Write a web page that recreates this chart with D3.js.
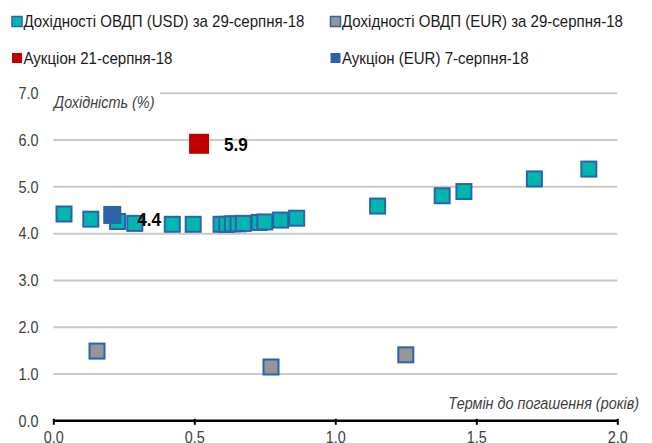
<!DOCTYPE html>
<html><head><meta charset="utf-8">
<script src="https://cdn.jsdelivr.net/npm/d3@7"></script>
<style>
body{margin:0;background:#fff;}
svg{display:block;font-family:"Liberation Sans","Arial",sans-serif;}
</style></head>
<body><svg id="c" width="652" height="443"></svg>
<script>
const usdMaturity = [0.038,0.133,0.228,0.289,0.422,0.496,0.595,0.615,0.635,0.655,0.674,0.73,0.75,0.806,0.863,1.150,1.379,1.456,1.706,1.899];
const usdYield    = [4.42,4.31,4.26,4.22,4.20,4.20,4.20,4.20,4.21,4.21,4.22,4.24,4.25,4.29,4.33,4.59,4.81,4.90,5.17,5.38];
const eurMaturity = [0.155,0.772,1.25];
const eurYield    = [1.49,1.15,1.41];
const auctionUahMaturity = [0.517];
const auctionUahYield    = [5.92];
const auctionEurMaturity = [0.209];
const auctionEurYield    = [4.40];
const xTicks = [0,0.5,1.0,1.5,2.0];
const yTicks = [0,1,2,3,4,5,6,7];
const legendLabels = ["Дохідності ОВДП (USD) за 29-серпня-18","Дохідності ОВДП (EUR) за 29-серпня-18","Аукціон 21-серпня-18","Аукціон (EUR) 7-серпня-18"];
const yTitle = "Дохідність (%)";
const xTitle = "Термін до погашення (років)";

const svg = d3.select("#c");
const x = d3.scaleLinear().domain([0,2]).range([53.3,617.3]);
const y = d3.scaleLinear().domain([0,7]).range([420.8,93.3]);
const fmt = d3.format(".1f");
const NARROW = 0.9;

// gridlines
svg.append("g").selectAll("line").data(yTicks.filter(d=>d>0)).join("line")
  .attr("x1",d=>d===7?160:x(0)).attr("x2",x(2))
  .attr("y1",d=>y(d)).attr("y2",d=>y(d))
  .attr("stroke","#c9c9c9").attr("stroke-width",2);

// y tick labels
svg.append("g").selectAll("text").data(yTicks).join("text")
  .attr("transform",d=>`translate(38.5,${y(d)}) scale(${NARROW},1)`).attr("dy","0.36em")
  .attr("text-anchor","end").attr("font-size",16).attr("fill","#404040")
  .text(d=>fmt(d));

// x axis
const xAxis = d3.axisBottom(x).tickValues(xTicks).tickFormat(fmt).tickSize(4).tickPadding(7);
const gx = svg.append("g").attr("transform",`translate(0,${y(0)})`).call(xAxis);
gx.select(".domain").attr("stroke","#000").attr("stroke-width",2.5).attr("d",`M${x(0)},0H${x(2)}`);
gx.selectAll(".tick line").attr("stroke","#000").attr("stroke-width",2).attr("y1",-2);
gx.selectAll(".tick text").attr("font-size",16).attr("fill","#404040")
  .attr("font-family","Liberation Sans, Arial, sans-serif")
  .attr("transform",`scale(${NARROW},1)`).attr("x",0);

// axis titles
svg.append("text").attr("transform",`translate(54,108) scale(${NARROW},1)`).attr("font-size",16).attr("font-style","italic")
  .attr("fill","#404040").text(yTitle);
svg.append("text").attr("transform",`translate(639,409) scale(${NARROW},1)`).attr("text-anchor","end").attr("font-size",16)
  .attr("font-style","italic").attr("fill","#404040").text(xTitle);

function squares(xs, ys, size, fill, stroke, sw){
  const data = xs.map((v,i)=>[v,ys[i]]);
  svg.append("g").selectAll("rect").data(data).join("rect")
    .attr("x",d=>x(d[0])-size/2).attr("y",d=>y(d[1])-size/2)
    .attr("width",size).attr("height",size)
    .attr("fill",fill).attr("stroke",stroke).attr("stroke-width",sw);
}
squares(usdMaturity, usdYield, 15, "#00b7b0", "#2f62ad", 2);
squares(eurMaturity, eurYield, 15, "#969696", "#2f62ad", 2);
squares(auctionUahMaturity, auctionUahYield, 20, "#c00000", "none", 0);
squares(auctionEurMaturity, auctionEurYield, 18, "#2e62a8", "none", 0);

// data labels
svg.append("text").attr("transform",`translate(${x(auctionUahMaturity[0])+25},${y(auctionUahYield[0])}) scale(${NARROW},1)`).attr("dy","0.36em")
  .attr("font-size",19).attr("font-weight","bold").attr("fill","#000").text(fmt(auctionUahYield[0]));
svg.append("text").attr("transform",`translate(${x(auctionEurMaturity[0])+25},${y(auctionEurYield[0])+4}) scale(${NARROW},1)`).attr("dy","0.36em")
  .attr("font-size",19).attr("font-weight","bold").attr("fill","#000").text(fmt(auctionEurYield[0]));

// legend
const legend = [
  {label:legendLabels[0], fill:"#00b7b0", stroke:"#2f62ad", lx:12, ly:21.5},
  {label:legendLabels[1], fill:"#969696", stroke:"#2f62ad", lx:330.5, ly:21.5},
  {label:legendLabels[2], fill:"#c00000", stroke:"none", lx:12, ly:58},
  {label:legendLabels[3], fill:"#2e62a8", stroke:"none", lx:330.5, ly:58}
];
const lg = svg.append("g").selectAll("g").data(legend).join("g")
  .attr("transform",d=>`translate(${d.lx},${d.ly})`);
lg.append("rect").attr("x",0).attr("y",-5).attr("width",10).attr("height",10)
  .attr("fill",d=>d.fill).attr("stroke",d=>d.stroke).attr("stroke-width",d=>d.stroke==="none"?0:1.5);
lg.append("text").attr("transform","translate(11.5,0) scale(0.94,1)").attr("dy","0.36em").attr("font-size",16)
  .attr("fill","#1a1a1a").text(d=>d.label);
</script></body></html>
